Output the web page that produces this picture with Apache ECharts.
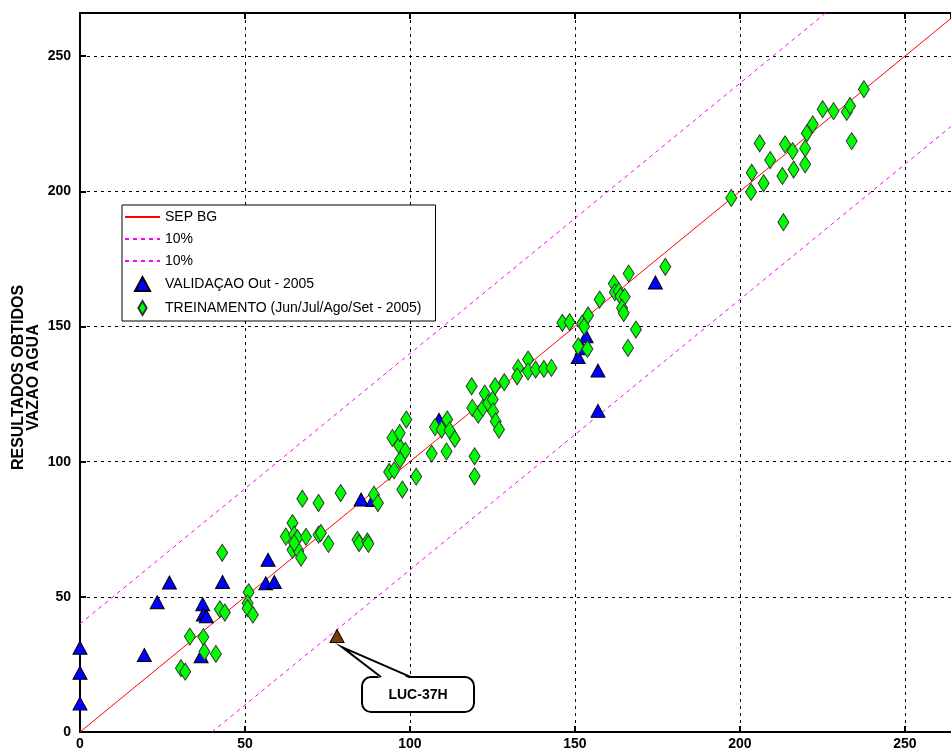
<!DOCTYPE html>
<html>
<head>
<meta charset="utf-8">
<script src="https://cdn.jsdelivr.net/npm/echarts@6/dist/echarts.min.js"></script>
<style>
  html, body { margin: 0; padding: 0; background: #fff; }
  #chart { width: 951px; height: 756px; }
</style>
</head>
<body>
<div id="chart"></div>
<script>
// Reference line y = x and the ±40 band
const sepX = [0, 264];
const sepY = [0, 264];
const upX = [0, 226];
const upY = [40, 266];
const lowX = [40, 264];
const lowY = [0, 224];

// Validation points (Out - 2005)
const valX = [0, 0, 0, 19.5, 23.4, 27.1, 37.2, 37.4, 38.3, 36.7, 43.2, 56.3, 58.9, 57.0,
  85.2, 88.8, 108.8, 151.0, 152.2, 153.4, 157.0, 157.0, 174.4];
const valY = [31.2, 21.9, 10.5, 28.5, 48.0, 55.3, 47.3, 43.5, 42.8, 28.0, 55.5, 55.0, 55.5, 63.7,
  86.0, 85.8, 115.5, 138.7, 142.0, 146.4, 133.7, 118.8, 166.3];

// Highlighted validation well
const lucX = [77.9];
const lucY = [35.5];
const lucName = 'LUC-37H';

// Training points (Jun/Jul/Ago/Set - 2005)
const trainX = [33.3, 37.4, 37.7, 41.2, 30.6, 31.9, 42.4, 43.9, 43.1, 51.1, 50.8, 50.8, 52.4,
  64.4, 62.4, 64.9, 65.9, 68.5, 64.4, 66.2, 67.0, 64.9, 67.4, 72.3, 72.3, 73.0, 75.3, 79.0,
  84.1, 84.6, 87.1, 87.4, 89.1, 90.3, 93.7, 95.2, 97.0, 96.7, 98.6, 94.7, 96.9, 98.9, 97.7,
  101.9, 107.6, 109.6, 111.3, 112.0, 113.6, 106.6, 111.1, 118.7, 118.9, 120.7, 119.6, 119.6,
  122.7, 122.1, 123.7, 125.1, 125.2, 126.0, 127.0, 125.8, 128.6, 132.8, 132.5, 135.8, 135.8,
  138.1, 140.6, 142.9, 146.2, 148.4, 152.2, 152.8, 154.0, 151.0, 153.8, 157.5, 161.8, 162.1,
  163.3, 163.8, 165.1, 164.3, 164.8, 166.3, 168.5, 166.1, 177.4, 197.4, 203.4, 203.6, 207.2,
  206.0, 209.2, 212.9, 213.2, 213.7, 216.0, 216.3, 219.8, 219.8, 220.3, 222.1, 225.1, 228.4,
  232.4, 233.4, 233.9, 237.6];
const trainY = [35.3, 35.1, 29.7, 28.9, 23.6, 22.3, 45.4, 44.2, 66.3, 51.7, 47.6, 45.8, 43.4,
  77.3, 72.3, 73.0, 71.7, 72.2, 67.4, 67.1, 64.5, 69.9, 86.3, 84.7, 73.0, 73.6, 69.6, 88.4,
  71.1, 69.9, 70.5, 69.6, 87.8, 84.7, 96.2, 96.8, 100.7, 106.0, 104.0, 108.8, 110.6, 115.6, 89.7,
  94.5, 112.8, 111.9, 115.6, 111.6, 108.4, 103.0, 103.8, 127.9, 119.9, 117.4, 102.0, 94.6,
  125.2, 119.9, 121.7, 123.0, 118.6, 114.9, 111.9, 127.9, 129.4, 134.7, 131.6, 137.8, 133.4,
  134.1, 134.3, 134.7, 151.4, 151.6, 151.1, 150.0, 154.1, 142.7, 141.7, 160.0, 165.9, 162.7,
  163.1, 161.2, 161.0, 156.9, 155.0, 169.6, 148.9, 142.1, 172.1, 197.6, 199.8, 206.9, 203.0,
  217.8, 211.6, 205.7, 188.6, 217.4, 214.9, 208.1, 215.9, 210.0, 221.5, 224.8, 230.4, 229.7,
  229.4, 231.6, 218.6, 237.8];

// Axis settings
const xMin = 0, xMax = 264, yMin = 0, yMax = 266, tickStep = 50;
const yTitle = 'RESULTADOS OBTIDOS\nVAZAO AGUA';

const legendNames = {
  sep: 'SEP BG',
  up: '10%',
  low: '10%',
  val: 'VALIDAÇAO Out - 2005',
  train: 'TREINAMENTO (Jun/Jul/Ago/Set - 2005)'
};

const zip = (xs, ys) => xs.map((x, i) => [x, ys[i]]);
const tickFont = { fontFamily: "'Liberation Sans Narrow', 'Liberation Sans', Arial, sans-serif", fontWeight: 'bold', fontSize: 14, color: '#000' };
const diamond = 'path://M5 0L10 8.5L5 17L0 8.5Z';
const triangle = 'path://M7 0L14 13L0 13Z';
// line-only legend entries: hide the marker drawn on top of the line sample
const lineOnly = { opacity: 0 };

const chart = echarts.init(document.getElementById('chart'), null, { renderer: 'canvas' });

chart.setOption({
  animation: false,
  backgroundColor: '#fff',
  grid: { left: 80, width: 871, top: 13, bottom: 24, containLabel: false, outerBoundsMode: 'none' },
  legend: {
    orient: 'vertical',
    left: 122,
    top: 205,
    backgroundColor: '#fff',
    borderColor: '#000',
    borderWidth: 1,
    borderRadius: 0,
    padding: [5, 14, 5, 2],
    itemWidth: 35,
    itemHeight: 14,
    itemGap: 8,
    data: [
      { name: 'sep', itemStyle: lineOnly },
      { name: 'up', itemStyle: lineOnly },
      { name: 'low', itemStyle: lineOnly },
      { name: 'val' },
      { name: 'train' }
    ],
    formatter: n => legendNames[n],
    textStyle: { fontFamily: "'Liberation Sans', Arial, sans-serif", fontSize: 14, color: '#000' },
    selectedMode: false
  },
  xAxis: [{
    type: 'value', min: xMin, max: xMax, interval: tickStep,
    axisLine: { lineStyle: { color: '#000', width: 2 } },
    axisTick: { inside: true, length: 6, lineStyle: { color: '#000', width: 2 } },
    axisLabel: Object.assign({ margin: 5, showMaxLabel: false }, tickFont),
    splitLine: { show: true, lineStyle: { color: '#000', type: [3, 4], width: 1 } }
  }, {
    type: 'value', min: xMin, max: xMax, interval: tickStep, position: 'top',
    axisLine: { show: true, lineStyle: { color: '#000', width: 2 } },
    axisTick: { show: true, inside: true, length: 6, lineStyle: { color: '#000', width: 2 } },
    axisLabel: { show: false },
    splitLine: { show: false }
  }],
  yAxis: [{
    type: 'value', min: yMin, max: yMax, interval: tickStep,
    axisLine: { show: true, lineStyle: { color: '#000', width: 2 } },
    axisTick: { show: true, inside: true, length: 6, lineStyle: { color: '#000', width: 2 } },
    axisLabel: Object.assign({ margin: 9, showMaxLabel: false }, tickFont),
    splitLine: { show: true, lineStyle: { color: '#000', type: [3, 4], width: 1 } },
    name: yTitle,
    nameLocation: 'middle',
    nameGap: 39,
    nameMoveOverlap: false,
    nameTextStyle: { fontFamily: "'Liberation Sans', Arial, sans-serif", fontWeight: 'bold', fontSize: 16, lineHeight: 15, color: '#000', padding: [0, 10, 0, 0] }
  }],
  series: [
    { name: 'sep', type: 'line', data: zip(sepX, sepY), showSymbol: false, symbol: 'none',
      lineStyle: { color: '#ff0000', width: 1 }, itemStyle: { color: '#ff0000' }, z: 2 },
    { name: 'up', type: 'line', data: zip(upX, upY), showSymbol: false, symbol: 'none',
      lineStyle: { color: '#ff00ff', width: 1, type: [4, 4] }, itemStyle: { color: '#ff00ff' }, z: 2 },
    { name: 'low', type: 'line', data: zip(lowX, lowY), showSymbol: false, symbol: 'none',
      lineStyle: { color: '#ff00ff', width: 1, type: [4, 4] }, itemStyle: { color: '#ff00ff' }, z: 2 },
    { name: 'val', type: 'scatter', data: zip(valX, valY), symbol: triangle, symbolSize: [14, 13],
      itemStyle: { color: '#0000ff', borderColor: '#000', borderWidth: 1, opacity: 1 }, z: 3 },
    { name: 'train', type: 'scatter', data: zip(trainX, trainY), symbol: diamond, symbolSize: [11, 17],
      itemStyle: { color: '#00ff00', borderColor: '#333', borderWidth: 1, opacity: 1 }, z: 4 },
    { name: 'luc', type: 'scatter', data: zip(lucX, lucY), symbol: triangle, symbolSize: [14, 13],
      itemStyle: { color: '#7a3c00', borderColor: '#000', borderWidth: 1, opacity: 1 }, z: 3 }
  ]
});

// Speech-bubble callout naming the highlighted well
const p = chart.convertToPixel({ seriesIndex: 5 }, [lucX[0], lucY[0]]);
const bx = p[0] + 25, by = p[1] + 41, bw = 112, bh = 35;
const tip = [p[0] + 5, p[1] + 11];
const j1 = [p[0] + 44, by], j2 = [p[0] + 74, by];
chart.setOption({
  graphic: [
    { type: 'rect', z: 100, shape: { x: bx, y: by, width: bw, height: bh, r: 9 },
      style: { fill: '#fff', stroke: '#000', lineWidth: 2 } },
    { type: 'polygon', z: 101, shape: { points: [[j1[0], j1[1] + 2], tip, [j2[0], j2[1] + 2]] },
      style: { fill: '#fff', stroke: null } },
    { type: 'polyline', z: 102, shape: { points: [j1, tip, j2] },
      style: { fill: null, stroke: '#000', lineWidth: 2 } },
    { type: 'text', z: 103, style: { text: lucName, x: bx + bw / 2, y: by + bh / 2 + 1,
      align: 'center', verticalAlign: 'middle',
      font: "bold 14px 'Liberation Sans', Arial, sans-serif", fill: '#000' } }
  ]
});
</script>
</body>
</html>
